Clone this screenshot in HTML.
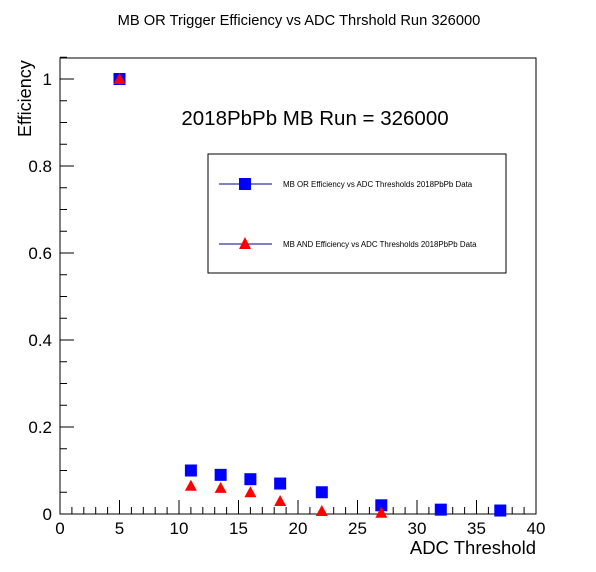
<!DOCTYPE html>
<html><head><meta charset="utf-8"><style>
body{margin:0;background:#fff}svg{display:block;font-family:"Liberation Sans",sans-serif}
</style></head><body>
<svg id="c" width="596" height="572">
<rect width="596" height="572" fill="#fff"/>
<text x="299" y="25" text-anchor="middle" font-size="14.7">MB OR Trigger Efficiency vs ADC Thrshold Run 326000</text>
<rect x="60" y="58" width="476" height="456" fill="none" stroke="#000" stroke-width="1"/>
<text x="315" y="125" text-anchor="middle" font-size="20.5">2018PbPb MB Run = 326000</text>
<text x="536" y="554" text-anchor="end" font-size="18.5">ADC Threshold</text>
<text transform="translate(31,137) rotate(-90)" font-size="18">Efficiency</text>
<g id="axes"></g><g id="marks"></g>
<g>
<rect x="208" y="154" width="298" height="119" fill="#fff" stroke="#000"/>
<line x1="219" y1="184" x2="272" y2="184" stroke="#00008b"/>
<rect x="239" y="178" width="12" height="12" fill="#0000ff"/>
<text x="283" y="187" font-size="7.9">MB OR Efficiency vs ADC Thresholds 2018PbPb Data</text>
<line x1="219" y1="244" x2="272" y2="244" stroke="#00008b"/>
<polygon points="245,237 251,249 239,249" fill="#ff0000"/>
<text x="283" y="247" font-size="7.9">MB AND Efficiency vs ADC Thresholds 2018PbPb Data</text>
</g>
</svg>
<script>
const thresholds=[5,11,13.5,16,18.5,22,27,32,37];
const orEff=[1,0.1,0.09,0.08,0.07,0.05,0.02,0.01,0.008];
const andThresholds=[5,11,13.5,16,18.5,22,27];
const andEff=[1,0.065,0.06,0.05,0.03,0.007,0.003];
const xTicks=[0,5,10,15,20,25,30,35,40];
const yTicks=[0,0.2,0.4,0.6,0.8,1];
const yTickLabels=["0","0.2","0.4","0.6","0.8","1"];
const NS="http://www.w3.org/2000/svg";
const X=v=>60+v*476/40;
const Y=v=>514-v*435;
function mk(t,a,p){const e=document.createElementNS(NS,t);for(const k in a)e.setAttribute(k,a[k]);p.appendChild(e);return e;}
const ax=document.getElementById('axes'),mg=document.getElementById('marks');
for(let i=0;i<=40;i++){const l=mk('line',{x1:X(i),x2:X(i),y1:514,y2:i%5==0?500:507,stroke:'#000'},ax);

}
xTicks.forEach(v=>{const t=mk('text',{x:X(v),y:534,'text-anchor':'middle','font-size':17},ax);t.textContent=v;

});
for(let i=0;i<=21;i++){const v=i*0.05;const major=i%4==0;const l=mk('line',{x1:60,x2:major?74:67,y1:Y(v),y2:Y(v),stroke:'#000'},ax);

}
yTicks.forEach((v,i)=>{const t=mk('text',{x:52,y:Y(v)+6,'text-anchor':'end','font-size':17},ax);t.textContent=yTickLabels[i];

});
thresholds.forEach((x,i)=>{const r=mk('rect',{x:X(x)-6,y:Y(orEff[i])-6,width:12,height:12,fill:'#0000ff'},mg);

});
andThresholds.forEach((x,i)=>{const cx=X(x),cy=Y(andEff[i]);const p=mk('polygon',{points:`${cx},${cy-6} ${cx+6},${cy+5} ${cx-6},${cy+5}`,fill:'#ff0000'},mg);

});
</script>
</body></html>
